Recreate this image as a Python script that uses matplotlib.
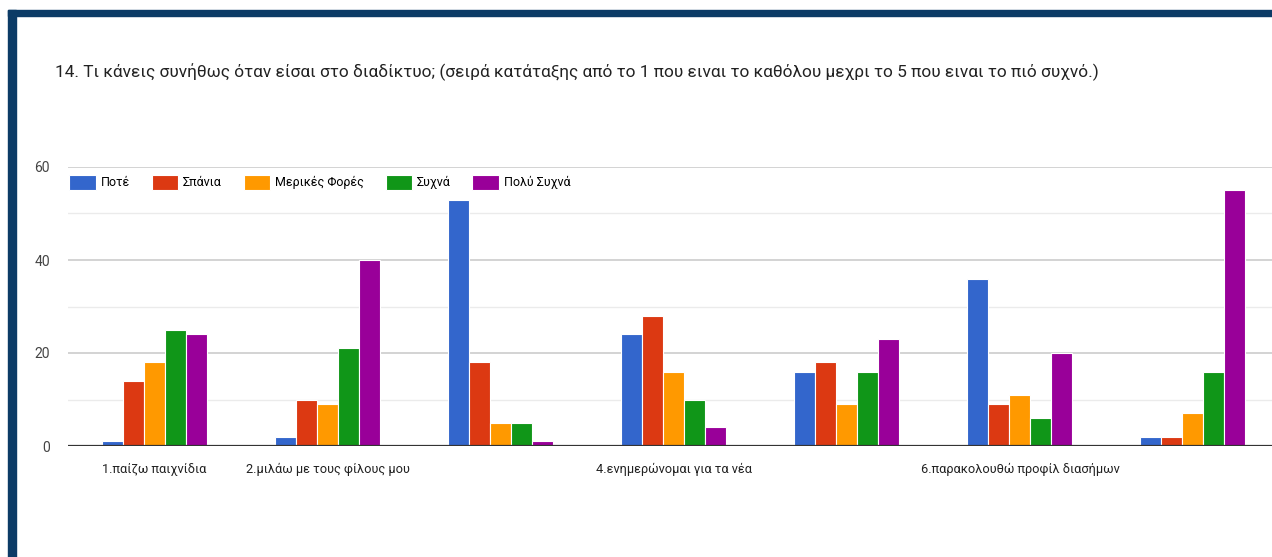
import numpy as np
import matplotlib.pyplot as plt
from matplotlib.patches import Rectangle

plt.rcParams['font.family'] = ['Roboto', 'DejaVu Sans']

title = ("14. Τι κάνεις συνήθως όταν είσαι στο διαδίκτυο; (σειρά κατάταξης από το 1 "
         "που ειναι το καθόλου μεχρι το 5 που ειναι το πιό συχνό.)")

# category labels (3, 5 and 7 are not shown on the original axis)
tick_labels = ["1.παίζω παιχνίδια", "2.μιλάω με τους φίλους μου", "",
               "4.ενημερώνομαι για τα νέα", "", "6.παρακολουθώ προφίλ διασήμων", ""]

series_names = ["Ποτέ", "Σπάνια", "Μερικές Φορές", "Συχνά", "Πολύ Συχνά"]
pote = [1, 2, 53, 24, 16, 36, 2]
spania = [14, 10, 18, 28, 18, 9, 2]
merikes = [18, 9, 5, 16, 9, 11, 7]
syxna = [25, 21, 5, 10, 16, 6, 16]
poly_syxna = [24, 40, 1, 4, 23, 20, 55]
colors = ["#3366cc", "#dc3912", "#ff9900", "#109618", "#990099"]

fig = plt.figure(figsize=(12.72, 5.57), dpi=100)

# dark frame on the left and top
fig.patches.append(Rectangle((8 / 1272, 0), 8 / 1272, 1 - 10 / 557, transform=fig.transFigure,
                             color="#0c3b66", zorder=0))
fig.patches.append(Rectangle((8 / 1272, 1 - 16 / 557), 1, 6 / 557, transform=fig.transFigure,
                             color="#0c3b66", zorder=0))

fig.text(55 / 1272, 1 - 72 / 557, title, fontsize=12.45, color="#222222", va="center", ha="left")

ax = fig.add_axes([68 / 1272, 1 - 446 / 557, 1211.5 / 1272, 279 / 557])

x = np.arange(len(tick_labels))
w = 21 / 173
all_series = [pote, spania, merikes, syxna, poly_syxna]
for i, (vals, name, c) in enumerate(zip(all_series, series_names, colors)):
    ax.bar(x + (i - 2) * w, vals, width=w, color=c, label=name,
           edgecolor="white", linewidth=0.8, zorder=3)

ax.set_xlim(-0.5, 6.5)
ax.set_ylim(0, 60)
ax.set_yticks([0, 20, 40, 60])
ax.set_yticks([10, 30, 50], minor=True)
ax.grid(axis="y", which="major", color="#cccccc", linewidth=1.2, zorder=0)
ax.grid(axis="y", which="minor", color="#ebebeb", linewidth=1.0, zorder=0)
ax.axhline(0, color="#333333", linewidth=1.6, zorder=4)
for s in ax.spines.values():
    s.set_visible(False)
ax.tick_params(axis="y", which="both", length=0, pad=13, labelsize=10, labelcolor="#444444")
ax.tick_params(axis="x", length=0, pad=12, labelsize=9.2, labelcolor="#222222")
ax.set_xticks(x)
ax.set_xticklabels(tick_labels)

ax.legend(loc="upper left", bbox_to_anchor=(0, 0.977), ncol=5, frameon=False,
          fontsize=9, handlelength=2.1, handleheight=1.45, handletextpad=0.4,
          columnspacing=1.75, borderaxespad=0, borderpad=0.1)

fig.savefig("out.png", dpi=100)
